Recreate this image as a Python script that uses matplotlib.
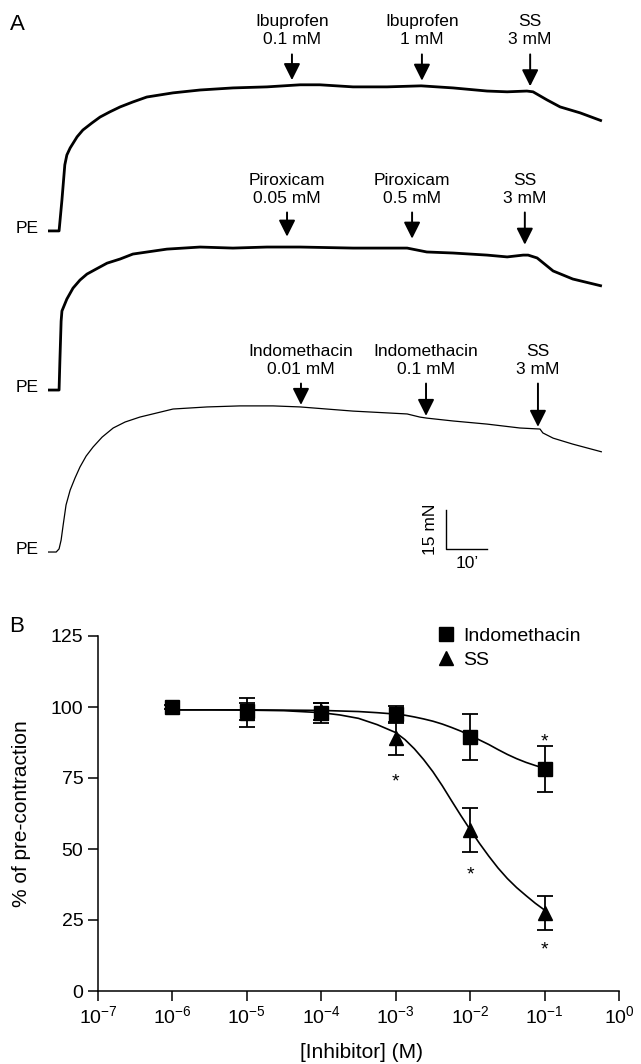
import numpy as np
import matplotlib
matplotlib.use("Agg")
import matplotlib.pyplot as plt
from matplotlib.lines import Line2D
from matplotlib.ticker import NullLocator

plt.rcParams['font.family'] = ['Liberation Sans', 'DejaVu Sans']
plt.rcParams['mathtext.fontset'] = 'custom'
plt.rcParams['mathtext.rm'] = 'Liberation Sans'
plt.rcParams['mathtext.it'] = 'Liberation Sans:italic'
plt.rcParams['mathtext.bf'] = 'Liberation Sans:bold'

# ---------------- panel A data: time (min) / tension above baseline (mN)
ibu_t = [0, 2.7, 3.4, 4.1, 4.6, 5.4, 7.1, 8.5, 10.7, 12.7, 15.1, 17.6, 20.7, 24.1,
         30.5, 37.1, 45.1, 53.4, 61.5, 66.3, 74.4, 82.7, 91.0, 98.8, 107.1, 112.0,
         116.8, 118.3, 121.7, 124.9, 129.8, 135.1]
ibu_f = [0, 0, 11.9, 25.4, 29.2, 31.9, 36.2, 38.8, 41.5, 43.8, 45.8, 47.7, 49.6, 51.5,
         53.1, 54.2, 55.0, 55.4, 56.2, 56.2, 55.4, 55.4, 55.8, 55.0, 53.8, 53.5,
         53.8, 53.5, 50.4, 47.7, 45.4, 42.3]

pir_t = [0, 2.7, 2.9, 3.2, 3.4, 4.6, 6.1, 7.8, 9.5, 11.7, 14.4, 17.6, 20.7, 29.0,
         37.1, 45.1, 53.4, 61.5, 74.4, 87.6, 92.4, 98.8, 107.1, 112.0, 115.9, 117.1,
         119.3, 123.2, 128.0, 135.1]
pir_f = [0, 0, 11.2, 26.5, 30.4, 35.0, 39.2, 42.3, 44.6, 46.5, 48.8, 50.4, 52.3, 54.2,
         55.0, 54.6, 55.0, 55.0, 54.6, 54.6, 53.1, 52.7, 51.9, 51.2, 51.9, 51.9,
         50.8, 45.8, 42.7, 40.0]

ind_t = [0, 2.0, 2.7, 3.2, 3.7, 4.4, 5.4, 6.6, 7.8, 9.3, 11.0, 13.2, 15.9, 18.8, 22.4,
         30.5, 38.8, 46.8, 54.9, 61.5, 74.4, 87.6, 90.7, 92.4, 98.8, 107.1, 115.1,
         120.0, 120.7, 123.2, 128.0, 135.1]
ind_f = [0, 0, 1.2, 4.6, 10.4, 18.1, 23.8, 28.5, 32.7, 36.9, 40.4, 44.2, 47.7, 50.0, 51.9,
         55.0, 55.8, 56.2, 56.2, 55.8, 54.2, 53.1, 51.9, 51.5, 50.4, 49.2, 47.7,
         47.3, 45.8, 43.8, 41.5, 38.5]

ibu_events = [59.5, 91.2, 117.6]
ibu_labels = ["Ibuprofen\n0.1 mM", "Ibuprofen\n1 mM", "SS\n3 mM"]
pir_events = [58.3, 88.8, 116.3]
pir_labels = ["Piroxicam\n0.05 mM", "Piroxicam\n0.5 mM", "SS\n3 mM"]
ind_events = [61.7, 92.2, 119.5]
ind_labels = ["Indomethacin\n0.01 mM", "Indomethacin\n0.1 mM", "SS\n3 mM"]

# ---------------- panel B data
conc = [1e-6, 1e-5, 1e-4, 1e-3, 1e-2, 1e-1]
indo_mean = [100, 98.5, 98, 97.5, 89.5, 78.2]
indo_sem = [0.8, 3.0, 3.5, 3.0, 8.2, 8.1]
ss_conc = [1e-5, 1e-4, 1e-3, 1e-2, 1e-1]
ss_mean = [98, 98.5, 89.0, 56.8, 27.5]
ss_sem = [5.0, 3.0, 5.8, 7.8, 6.0]

fit_logc = [-6, -5.5, -5, -4.5, -4, -3.75, -3.5, -3.25, -3, -2.875, -2.75, -2.625,
            -2.5, -2.375, -2.25, -2.125, -2, -1.875, -1.75, -1.625, -1.5, -1.375,
            -1.25, -1.125, -1]
ss_fit = [99.0, 99.0, 98.9, 98.7, 98.0, 97.2, 96.0, 93.8, 91.0, 88.5, 85.3, 81.5,
          77.2, 72.3, 67.0, 61.8, 56.8, 52.0, 47.5, 43.3, 39.6, 36.4, 33.6, 30.9, 28.5]
indo_fit = [99.0, 99.0, 99.0, 98.9, 98.8, 98.6, 98.4, 98.0, 97.5, 97.1, 96.5, 95.8,
            95.0, 94.0, 92.8, 91.5, 90.0, 88.4, 86.8, 85.0, 83.3, 81.8, 80.5, 79.4, 78.4]

star_x = [1e-3, 1e-2, 1e-1, 1e-1]
star_y = [73.7, 40.8, 14.4, 87.8]

W, H = 641, 1064
fig = plt.figure(figsize=(W / 100, H / 100), dpi=100)

# ================= panel A
axA = fig.add_axes([0, 1 - 610 / H, 1, 610 / H])
axA.set_xlim(-48 / 4.1, (W - 48) / 4.1)
axA.set_ylim(0, 610 / 2.6)
axA.axis("off")

traces = [
    (ibu_t, ibu_f, ibu_events, ibu_labels, 145.8, 76.9, 2.0, 2.0),
    (pir_t, pir_f, pir_events, pir_labels, 84.6, 77.3, 4.0, 2.0),
    (ind_t, ind_f, ind_events, ind_labels, 22.3, 73.8, 0.8, 0.9),
]
for t, f, ev, labs, off, lab_h, gap, lw in traces:
    axA.plot(t, np.array(f) + off, color="black", lw=lw, solid_capstyle="butt",
             solid_joinstyle="round")
    axA.text(-2.4, off + 0.8, "PE", ha="right", va="center", fontsize=12.5)
    for te, lab in zip(ev, labs):
        tip = off + np.interp(te, t, f) + gap
        tail = off + lab_h - 9
        axA.annotate("", xy=(te, tip), xytext=(te, tail),
                     arrowprops=dict(arrowstyle="-|>,head_length=1.0,head_width=0.5",
                                     color="black", lw=1.4, mutation_scale=10,
                                     shrinkA=0, shrinkB=0))
        axA.text(te, off + lab_h, lab, ha="center", va="center", fontsize=12.5,
                 linespacing=1.25)

# scale bar: 15 mN / 10 min
sx, sy = 97.1, 23.5
axA.plot([sx, sx, sx + 10], [sy + 15, sy, sy], color="black", lw=1.0)
axA.text(93.4, 31.2, "15 mN", rotation=90, ha="center", va="center", fontsize=12.5)
axA.text(102.2, 17.7, "10\u2019", ha="center", va="center", fontsize=12.5)

fig.text(17 / W, 1 - 25 / H, "A", ha="center", va="center", fontsize=16)
fig.text(17 / W, 1 - 627 / H, "B", ha="center", va="center", fontsize=16)

# ================= panel B
axB = fig.add_axes([98 / W, (H - 991) / H, 521 / W, 355 / H])
axB.set_xscale("log")
axB.set_xlim(1e-7, 1)
axB.set_ylim(0, 125)

axB.plot(10 ** np.array(fit_logc), ss_fit, color="black", lw=1.2, zorder=2)
axB.plot(10 ** np.array(fit_logc), indo_fit, color="black", lw=1.2, zorder=2)
axB.errorbar(ss_conc, ss_mean, yerr=ss_sem, fmt="^", color="black", ms=10,
             elinewidth=1.3, capsize=5.8, capthick=1.3, zorder=3)
axB.errorbar(conc, indo_mean, yerr=indo_sem, fmt="s", color="black", ms=10,
             elinewidth=1.3, capsize=5.8, capthick=1.3, zorder=4)
for x, y in zip(star_x, star_y):
    axB.text(x, y, "*", ha="center", va="center", fontsize=14)

axB.set_xticks([1e-7, 1e-6, 1e-5, 1e-4, 1e-3, 1e-2, 1e-1, 1])
axB.xaxis.set_minor_locator(NullLocator())
axB.set_yticks([0, 25, 50, 75, 100, 125])
axB.spines[["top", "right"]].set_visible(False)
for s in ["left", "bottom"]:
    axB.spines[s].set_linewidth(1.1)
axB.tick_params(direction="out", length=7.5, width=1.1, labelsize=14, pad=3)

fig.text(22 / W, 1 - 814 / H, "% of pre-contraction", rotation=90,
         ha="center", va="center", fontsize=15)
fig.text(362 / W, 1 - 1052 / H, "[Inhibitor] (M)", ha="center", va="center", fontsize=15)

handles = [Line2D([], [], marker="s", color="black", ls="none", ms=10),
           Line2D([], [], marker="^", color="black", ls="none", ms=10)]
fig.legend(handles, ["Indomethacin", "SS"], loc="upper left",
           bbox_to_anchor=(436 / W, 1 - 627 / H), frameon=False, fontsize=14,
           borderaxespad=0, borderpad=0, handlelength=1.0, handletextpad=0.4,
           labelspacing=0.34)

fig.savefig("out.png", dpi=100)
